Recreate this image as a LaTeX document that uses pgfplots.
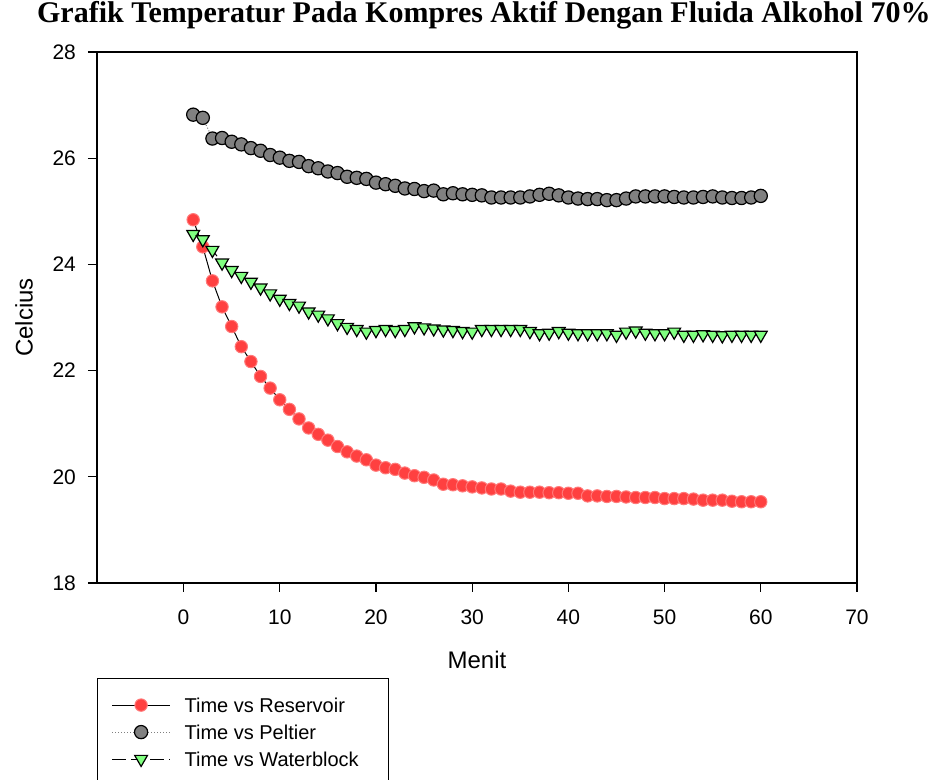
\documentclass[border=0pt]{standalone}
\usepackage{fontspec}
\setmainfont{Liberation Sans}
\newfontfamily\titlefont{Liberation Serif}
\usepackage{pgfplots}
\usepackage{pgfplotstable}
\pgfplotsset{compat=1.18}
\definecolor{resred}{RGB}{255,64,64}
\definecolor{pelgray}{RGB}{128,128,128}
\definecolor{watgreen}{RGB}{128,255,128}

\pgfplotstableread{
x res pel wat
1 24.84 26.82 24.57
2 24.33 26.76 24.47
3 23.69 26.37 24.27
4 23.20 26.38 24.03
5 22.83 26.31 23.89
6 22.45 26.26 23.78
7 22.17 26.19 23.67
8 21.89 26.14 23.56
9 21.67 26.06 23.45
10 21.45 26.01 23.35
11 21.27 25.95 23.27
12 21.09 25.93 23.22
13 20.92 25.85 23.11
14 20.80 25.81 23.05
15 20.69 25.75 22.98
16 20.57 25.72 22.89
17 20.47 25.65 22.82
18 20.39 25.63 22.78
19 20.32 25.61 22.73
20 20.22 25.54 22.76
21 20.17 25.51 22.78
22 20.14 25.48 22.76
23 20.07 25.43 22.78
24 20.02 25.42 22.83
25 19.99 25.38 22.81
26 19.94 25.39 22.79
27 19.86 25.32 22.77
28 19.85 25.34 22.76
29 19.83 25.32 22.74
30 19.81 25.31 22.73
31 19.79 25.30 22.78
32 19.77 25.26 22.78
33 19.77 25.26 22.78
34 19.73 25.26 22.78
35 19.71 25.26 22.78
36 19.71 25.28 22.74
37 19.71 25.31 22.70
38 19.70 25.33 22.71
39 19.70 25.30 22.74
40 19.69 25.26 22.71
41 19.69 25.24 22.70
42 19.64 25.23 22.70
43 19.64 25.23 22.70
44 19.63 25.21 22.70
45 19.63 25.21 22.67
46 19.62 25.24 22.73
47 19.61 25.28 22.75
48 19.61 25.28 22.71
49 19.61 25.28 22.70
50 19.59 25.28 22.70
51 19.59 25.27 22.73
52 19.59 25.26 22.67
53 19.58 25.26 22.67
54 19.56 25.27 22.68
55 19.56 25.28 22.67
56 19.56 25.26 22.66
57 19.54 25.25 22.67
58 19.53 25.25 22.67
59 19.53 25.26 22.67
60 19.53 25.29 22.67
}\data

\begin{document}
\begin{tikzpicture}
\begin{axis}[name=ax, at={(0pt,0pt)}, anchor=south west,
  scale only axis, width=380pt, height=265.5pt,
  xmin=-9, xmax=70, ymin=18, ymax=28,
  xtick={0,10,...,70}, ytick={18,20,...,28},
  tick align=outside, xtick pos=bottom, ytick pos=left,
  major tick length=4.5pt,
  axis line style={line width=0.6pt},
  tick style={line width=0.6pt, black},
  /pgf/number format/assume math mode=true,
  tick label style={font=\fontsize{10.5}{12}\selectfont},
  xticklabel style={yshift=-5.5pt},
  yticklabel style={xshift=-2.5pt},
  xlabel={Menit}, ylabel={Celcius},
  label style={font=\fontsize{12}{14}\selectfont},
  xlabel style={at={(axis description cs:0.5,-0.145)}, anchor=center},
  ylabel style={at={(axis description cs:-0.096,0.5)}, anchor=center},
  title={Grafik Temperatur Pada Kompres Aktif Dengan Fluida Alkohol 70\%},
  title style={at={(axis description cs:0.509,1)}, anchor=base, yshift=8.5pt,
    font=\titlefont\bfseries\fontsize{15}{18}\selectfont},
  legend style={at={(axis description cs:0,0)}, anchor=north west, yshift=-47.5pt,
    draw=black, line width=0.6pt, inner xsep=7pt, inner ysep=6.5pt,
    row sep=0pt, column sep=4pt,
    font=\fontsize{10}{12}\selectfont,
    nodes={text height=7.5pt, text depth=0pt, inner sep=3pt}},
  legend cell align=left,
  legend image code/.code={\draw[mark repeat=2,mark phase=2,#1] plot coordinates {(0pt,0pt) (14.5pt,0pt) (29pt,0pt)};},
]
\addplot[black, line width=0.5pt, mark=*, mark size=3.1pt,
  mark options={solid, fill=resred, draw=resred!70!white, line width=0.5pt}]
  table[x=x, y=res]{\data};
\addlegendentry{\makebox[92pt][l]{Time vs Reservoir}}
\addplot[pelgray, densely dotted, line width=0.5pt, mark=*, mark size=3.3pt,
  mark options={solid, fill=pelgray, draw=black, line width=0.6pt}]
  table[x=x, y=pel]{\data};
\addlegendentry{\makebox[92pt][l]{Time vs Peltier}}
\addplot[black, dash pattern=on 7pt off 2.5pt, line width=0.5pt, mark=triangle*, mark size=3.7pt,
  mark options={solid, rotate=180, fill=watgreen, draw=black, line width=0.6pt}]
  table[x=x, y=wat]{\data};
\addlegendentry{\makebox[92pt][l]{Time vs Waterblock}}
\end{axis}
\pgfresetboundingbox
\path[use as bounding box] ([shift={(-48.5pt,-98.5pt)}]ax.south west) rectangle ([shift={(421pt,291.5pt)}]ax.south west);
\end{tikzpicture}
\end{document}
